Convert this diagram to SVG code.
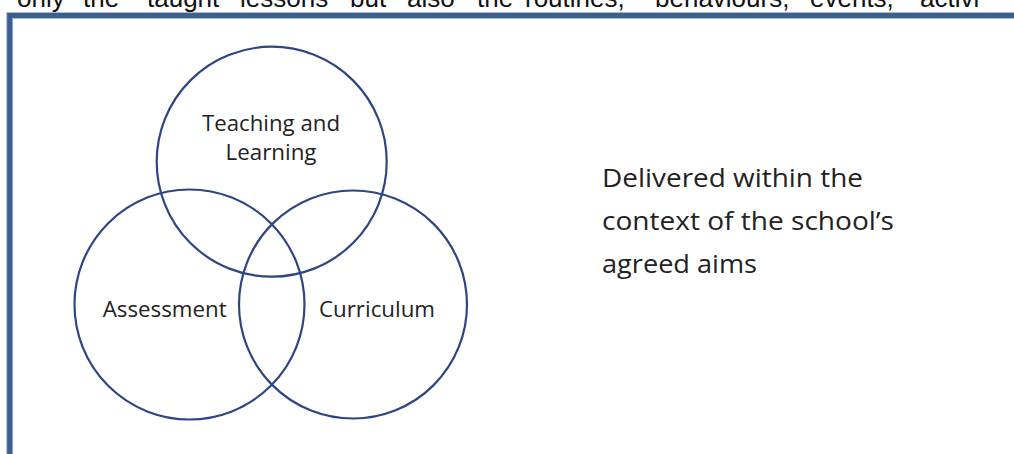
<svg xmlns="http://www.w3.org/2000/svg" width="1014" height="454" viewBox="0 0 1014 454">
<style>
.body{font-family:"Liberation Sans",Arial,sans-serif;font-size:26px;fill:#111}
.lbl{font-family:"Open Sans","Noto Sans",sans-serif;font-size:21.5px;fill:#222;text-anchor:middle}
.note{font-family:"Open Sans","Noto Sans",sans-serif;font-size:26px;fill:#222}
.c{fill:none;stroke:#2d4683;stroke-width:2.2}
</style>
<rect width="1014" height="454" fill="#fff"/>
<g id="page-text">
<text class="body" y="7"><tspan x="17">only</tspan><tspan x="83">the</tspan><tspan x="147">taught</tspan><tspan x="240">lessons</tspan><tspan x="350">but</tspan><tspan x="407">also</tspan><tspan x="477">the</tspan><tspan x="525">routines,</tspan><tspan x="655">behaviours,</tspan><tspan x="810">events,</tspan><tspan x="920">activi</tspan></text>
</g>
<g id="frame">
<path d="M9.7,470 V15.5 H1030" fill="none" stroke="#a8bbd3" stroke-width="7"/>
<path d="M9.7,470 V15.5 H1030" fill="none" stroke="#3b5f8f" stroke-width="5"/>
</g>
<g id="teaching-learning">
<circle class="c" cx="271.7" cy="161.7" r="115"/>
<text class="lbl" x="271" y="131" textLength="138" lengthAdjust="spacingAndGlyphs">Teaching and</text>
<text class="lbl" x="271" y="159.5" textLength="91" lengthAdjust="spacingAndGlyphs">Learning</text>
</g>
<g id="assessment">
<circle class="c" cx="189.5" cy="304.5" r="115"/>
<text class="lbl" x="164.7" y="317" textLength="124" lengthAdjust="spacingAndGlyphs">Assessment</text>
</g>
<g id="curriculum">
<circle class="c" cx="353" cy="304.5" r="114"/>
<text class="lbl" x="377" y="317" textLength="116" lengthAdjust="spacingAndGlyphs">Curriculum</text>
</g>
<g id="context-note">
<text class="note" x="602" y="186.5" textLength="261" lengthAdjust="spacingAndGlyphs">Delivered within the</text>
<text class="note" x="602" y="229.5" textLength="292" lengthAdjust="spacingAndGlyphs">context of the school’s</text>
<text class="note" x="602" y="272.5" textLength="155" lengthAdjust="spacingAndGlyphs">agreed aims</text>
</g>
<g id="connectors"/>
</svg>
